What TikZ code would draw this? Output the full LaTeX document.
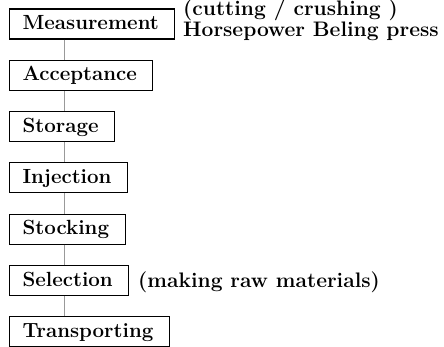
\documentclass[tikz,border=0pt]{standalone}
\usepackage{fontspec}
\begin{document}
\begin{tikzpicture}[x=1pt,y=-1pt,
  stepbox/.style={draw=black, line width=1.1pt, anchor=west, minimum height=30pt,
    inner xsep=13pt, inner ysep=0pt, text height=14pt, text depth=3pt,
    font=\fontsize{20.5}{22}\selectfont\bfseries, execute at end node={\hspace{3pt}}},
  link/.style={draw=gray!80, line width=0.9pt},
  note/.style={anchor=base west, inner sep=0pt, align=left, font=\fontsize{21}{17}\selectfont\bfseries}]
\useasboundingbox (0,0) rectangle (444,347);
\coordinate (spine) at (64,0);
\node[stepbox] (m) at (9,24) {Measurement};
\node[stepbox] (a) at (9,75.3) {Acceptance};
\node[stepbox] (s) at (9,126.6) {Storage};
\node[stepbox] (i) at (9,177.9) {Injection};
\node[stepbox] (k) at (9,229.2) {Stocking};
\node[stepbox] (e) at (9,280.5) {Selection};
\node[stepbox] (t) at (9,331.8) {Transporting};
\foreach \u/\v in {m/a,a/s,s/i,i/k,k/e,e/t}
  \draw[link] (\u.south -| spine) -- (\v.north -| spine);
\node[note] (n1) at (183,36.5) {(cutting / crushing )\\Horsepower Beling press};
\node[note] (n3) at (138,287) {(making raw materials)};
\end{tikzpicture}
\end{document}
